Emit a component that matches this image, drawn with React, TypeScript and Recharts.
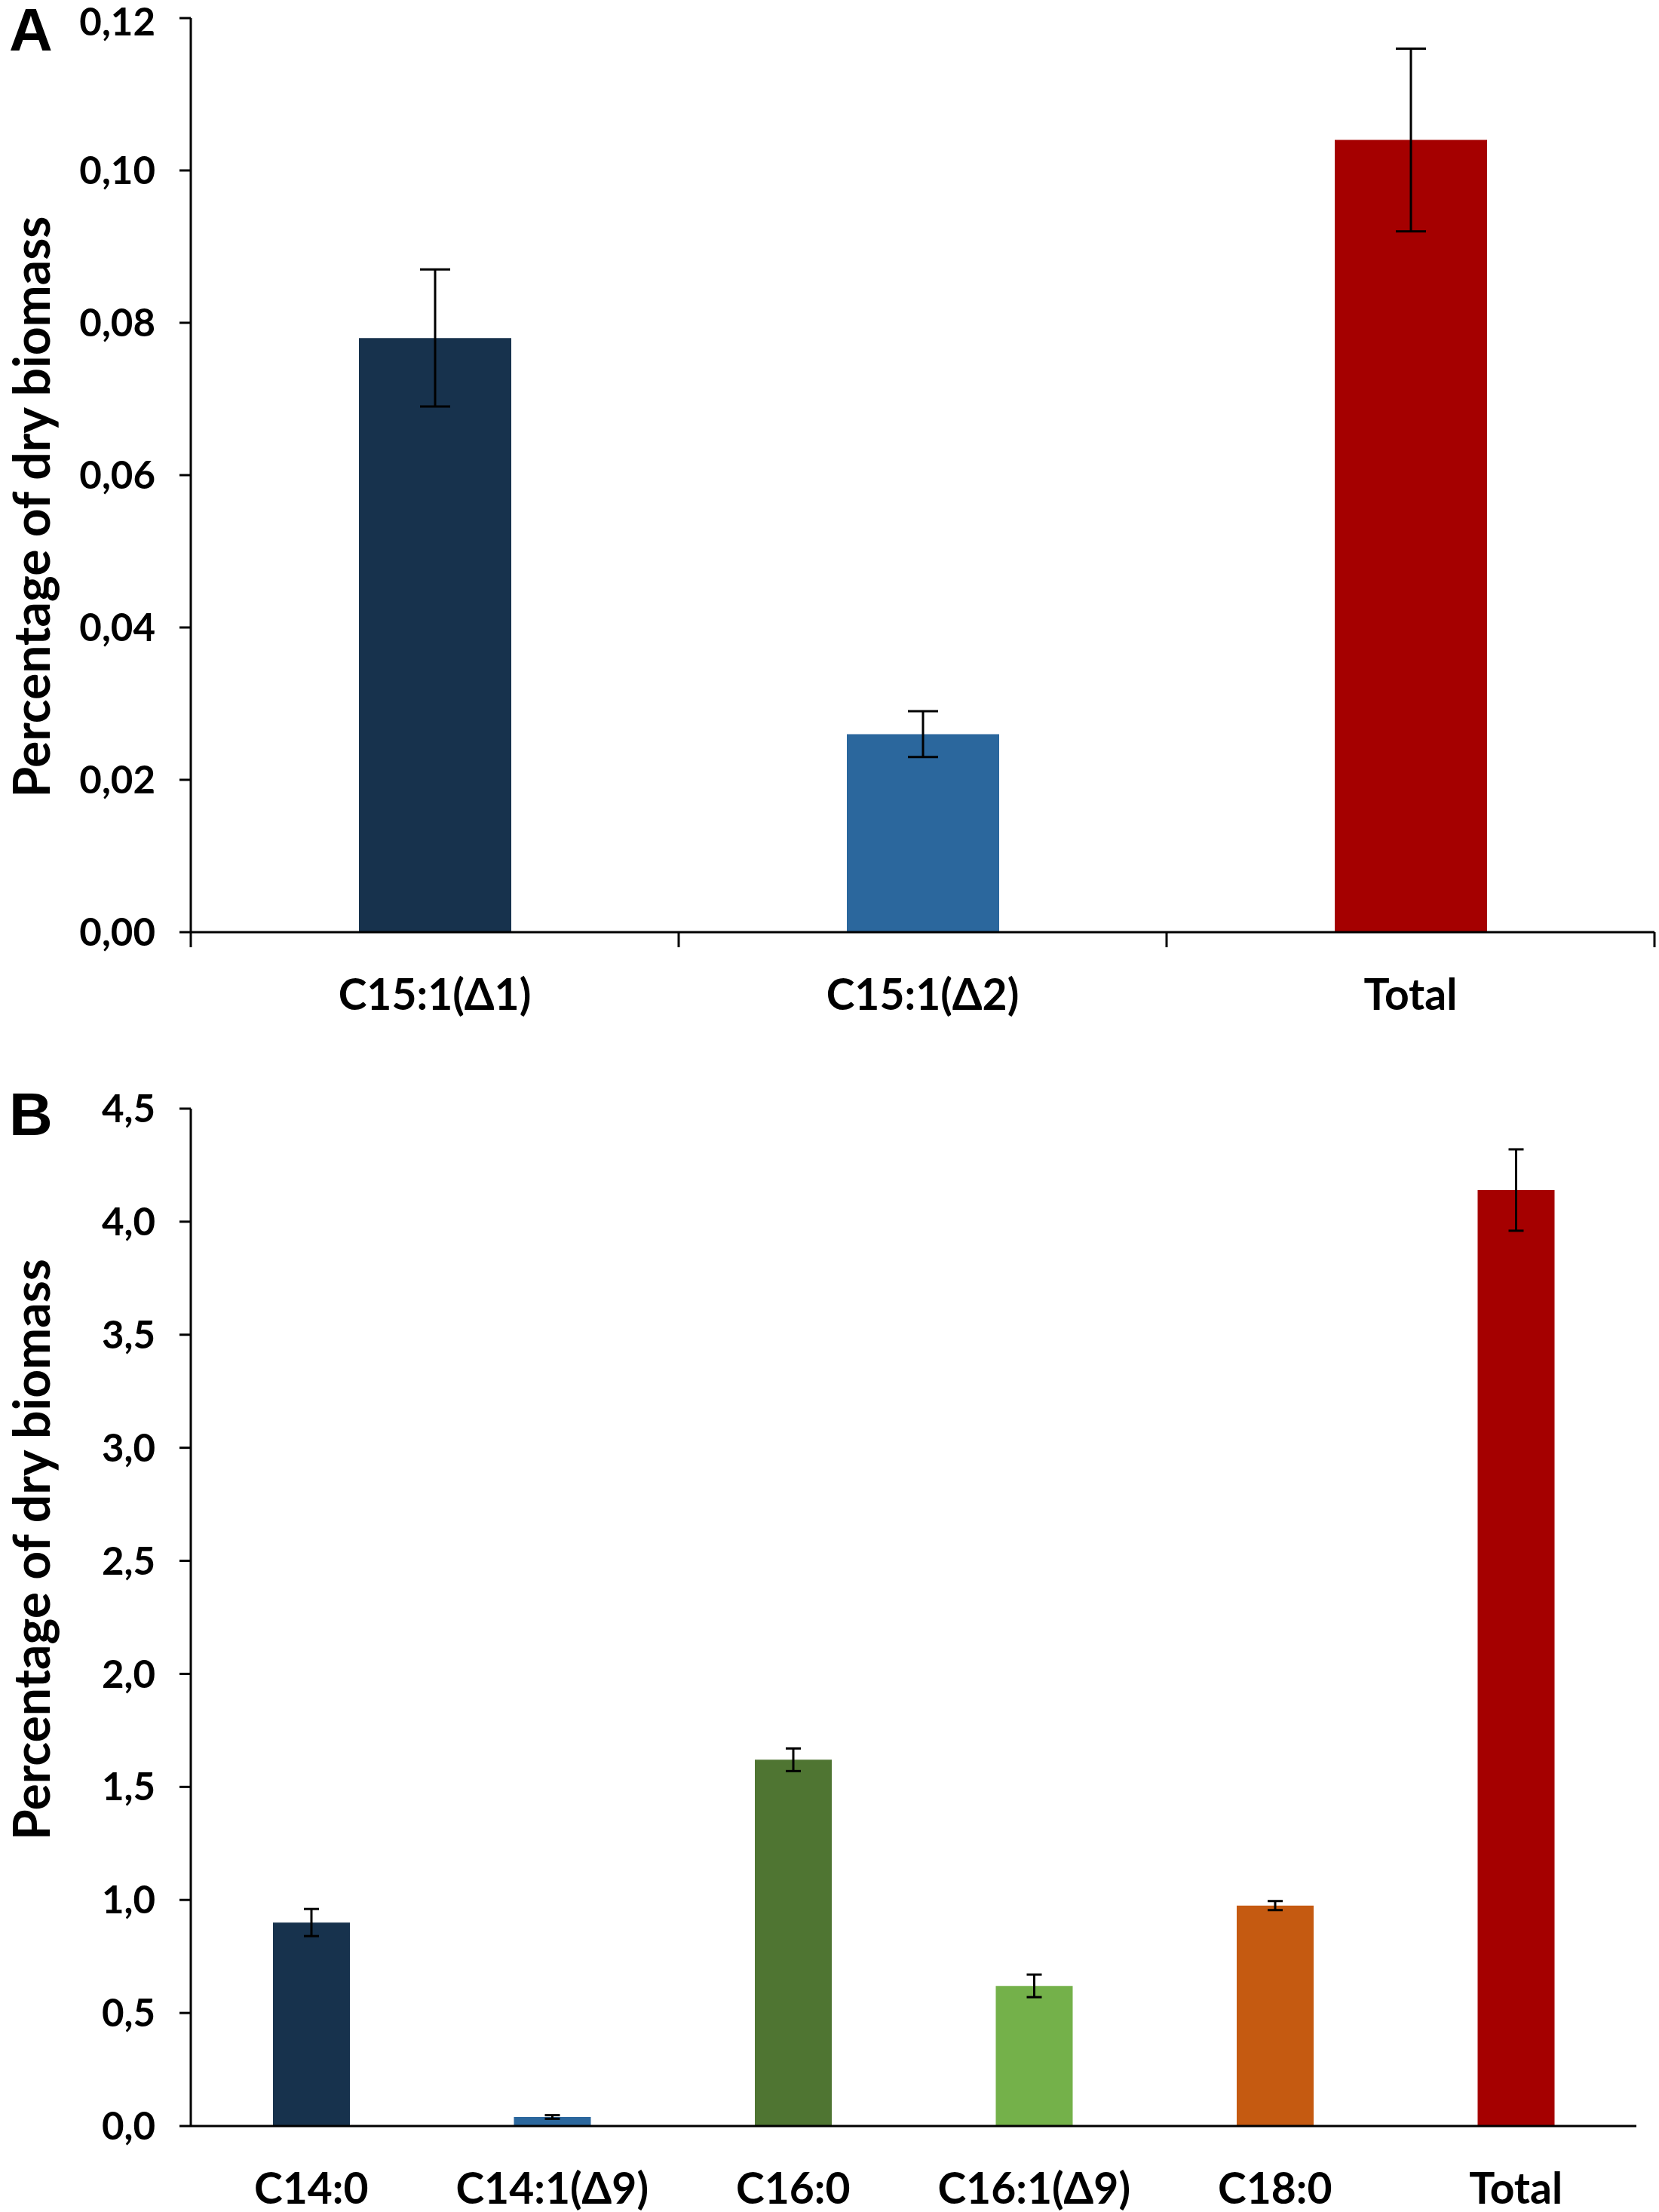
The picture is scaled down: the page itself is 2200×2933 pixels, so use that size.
import { Bar, BarChart, Cell, ErrorBar, XAxis, YAxis } from 'recharts';

const panelACategories = ['C15:1(Δ1)', 'C15:1(Δ2)', 'Total'];
const panelAValues = [0.078, 0.026, 0.104];
const panelAErrors = [0.009, 0.003, 0.012];
const panelAColors = ['#17324D', '#2B679D', '#A50000'];
const panelATicks = [0, 0.02, 0.04, 0.06, 0.08, 0.1, 0.12];

const panelBCategories = ['C14:0', 'C14:1(Δ9)', 'C16:0', 'C16:1(Δ9)', 'C18:0', 'Total'];
const panelBValues = [0.9, 0.04, 1.62, 0.62, 0.975, 4.14];
const panelBErrors = [0.06, 0.008, 0.05, 0.05, 0.02, 0.18];
const panelBColors = ['#17324D', '#2B679D', '#4F7532', '#74B14A', '#C55A11', '#A50000'];
const panelBTicks = [0, 0.5, 1, 1.5, 2, 2.5, 3, 3.5, 4, 4.5];

const FONT = 'Lato, "Open Sans", sans-serif';
const AXIS = { stroke: '#000', strokeWidth: 3 };
const TICK = { fill: '#000', fontSize: 51, fontWeight: 700, fontFamily: FONT };
const CAT_TICK = { fill: '#000', fontSize: 57, fontWeight: 700, fontFamily: FONT };
const LABEL_GAP = 63;

const dataA = panelACategories.map((name, i) => ({ name, value: panelAValues[i], err: panelAErrors[i] }));
const dataB = panelBCategories.map((name, i) => ({ name, value: panelBValues[i], err: panelBErrors[i] }));

// category label plus, for panel A, short marks at the band boundaries
function CategoryTick(props: any) {
    const { x, y, payload, index, visibleTicksCount, edgeMarks } = props;
    const half = payload?.offset ?? 0;
    const axisY = y - LABEL_GAP;
    return (
        <g>
            {edgeMarks && (
                <line x1={x - half} y1={axisY} x2={x - half} y2={axisY + 20} stroke="#000" strokeWidth={3} />
            )}
            {edgeMarks && index === visibleTicksCount - 1 && (
                <line x1={x + half} y1={axisY} x2={x + half} y2={axisY + 20} stroke="#000" strokeWidth={3} />
            )}
            <text x={x} y={y} dy="0.71em" textAnchor="middle" style={CAT_TICK}>
                {payload.value}
            </text>
        </g>
    );
}

function yTitle(dy: number) {
    return (props: any) => {
        const vb = props.viewBox || {};
        const cx = 40;
        const cy = vb.y + vb.height / 2 + dy;
        return (
            <text
                x={cx}
                y={cy}
                transform={`rotate(-90, ${cx}, ${cy})`}
                textAnchor="middle"
                dominantBaseline="central"
                style={{ fontSize: 66, fontWeight: 700, fontFamily: FONT, fill: '#000' }}
            >
                Percentage of dry biomass
            </text>
        );
    };
}

const panelLetter = (top: number): React.CSSProperties => ({
    position: 'absolute',
    left: 12,
    top,
    fontSize: 80,
    fontWeight: 700,
    fontFamily: '"Liberation Sans", Arial, sans-serif',
    lineHeight: 1,
    color: '#000',
});

export default function App() {
    return (
        <div style={{ position: 'absolute', left: 0, top: 0, width: 2200, height: 2933, background: '#fff' }}>
            <div style={panelLetter(0)}>A</div>
            <div style={panelLetter(1438)}>B</div>

            <div style={{ position: 'absolute', left: 0, top: 0 }}>
                <BarChart width={2200} height={1400} data={dataA} margin={{ top: 24, right: 6, left: 0, bottom: 0 }}>
                    <XAxis
                        dataKey="name"
                        height={164}
                        axisLine={AXIS}
                        tickLine={false}
                        tickSize={0}
                        tickMargin={LABEL_GAP}
                        tick={<CategoryTick edgeMarks />}
                        interval={0}
                    />
                    <YAxis
                        width={253}
                        domain={[0, 0.12]}
                        ticks={panelATicks}
                        tickFormatter={(v: number) => v.toFixed(2).replace('.', ',')}
                        tick={TICK}
                        tickSize={15}
                        tickMargin={32}
                        axisLine={AXIS}
                        tickLine={AXIS}
                        label={{ content: yTitle(42) }}
                    />
                    <Bar dataKey="value" barSize={202} isAnimationActive={false}>
                        {dataA.map((d, i) => (
                            <Cell key={d.name} fill={panelAColors[i]} />
                        ))}
                        <ErrorBar dataKey="err" width={20} stroke="#000" strokeWidth={3} />
                    </Bar>
                </BarChart>
            </div>

            <div style={{ position: 'absolute', left: 0, top: 1400 }}>
                <BarChart width={2200} height={1533} data={dataB} margin={{ top: 70, right: 30, left: 0, bottom: 0 }}>
                    <XAxis
                        dataKey="name"
                        height={114}
                        axisLine={AXIS}
                        tickLine={false}
                        tickSize={0}
                        tickMargin={LABEL_GAP}
                        tick={<CategoryTick />}
                        interval={0}
                    />
                    <YAxis
                        width={253}
                        domain={[0, 4.5]}
                        ticks={panelBTicks}
                        tickFormatter={(v: number) => v.toFixed(1).replace('.', ',')}
                        tick={TICK}
                        tickSize={15}
                        tickMargin={32}
                        axisLine={AXIS}
                        tickLine={AXIS}
                        label={{ content: yTitle(-90) }}
                    />
                    <Bar dataKey="value" barSize={102} isAnimationActive={false}>
                        {dataB.map((d, i) => (
                            <Cell key={d.name} fill={panelBColors[i]} />
                        ))}
                        <ErrorBar dataKey="err" width={10} stroke="#000" strokeWidth={3} />
                    </Bar>
                </BarChart>
            </div>
        </div>
    );
}
